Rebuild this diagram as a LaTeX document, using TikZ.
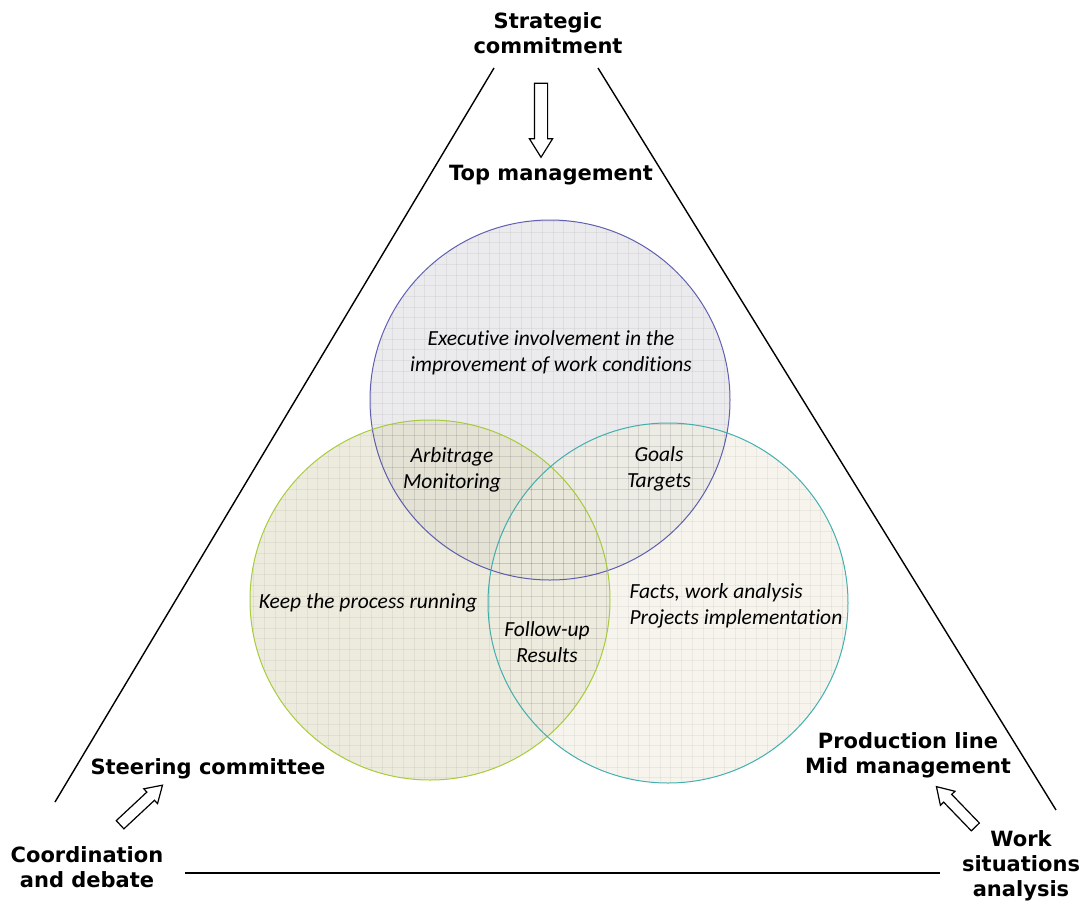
\documentclass[tikz,border=0pt]{standalone}
\usepackage{fontspec}
\setmainfont{DejaVu Sans}
\newfontfamily\carl[Ligatures=NoCommon]{Carlito}
\usepackage{tikz}
\usetikzlibrary{shapes.arrows}

\definecolor{topline}{RGB}{60,60,160}
\definecolor{leftline}{RGB}{160,200,40}
\definecolor{rightline}{RGB}{48,168,168}
\definecolor{topfill}{RGB}{228,228,231}
\definecolor{leftfill}{RGB}{222,218,195}
\definecolor{rightfill}{RGB}{238,235,222}

\begin{document}
\begin{tikzpicture}[x=1pt, y=-1pt,
	lbl/.style={font=\fontsize{21}{25}\selectfont\bfseries, align=center},
	itl/.style={font=\carl\fontsize{21.5}{26}\selectfont\itshape, align=center},
	ring/.style={circle, minimum size=360pt, inner sep=0pt},
	blockarrow/.style={single arrow, draw, line width=1.2pt, fill=white, inner sep=0pt, single arrow tip angle=64}]
	\useasboundingbox (0,0) rectangle (1082,903);
	% triangle
	\draw[line width=1.4pt] (494,68) -- (55,802);
	\draw[line width=1.4pt] (598,68) -- (1056,810);
	\draw[line width=1.4pt] (185,873) -- (940,873);
	% circles
	\node[ring, fill=topfill, fill opacity=.75] (ctop) at (550,400) {};
	\node[ring, fill=leftfill, fill opacity=.55] (cleft) at (430,600) {};
	\node[ring, fill=rightfill, fill opacity=.55] (cright) at (668,603) {};
	\foreach \c in {ctop,cleft,cright} {
		\begin{scope}
		\clip (\c) circle (180);
		\foreach \k in {0,...,66} {
			\draw[black, opacity=.05, line width=.7pt] (200+10.7*\k,200) -- (200+10.7*\k,800);
			\draw[black, opacity=.05, line width=.7pt] (200,200+10.7*\k) -- (900,200+10.7*\k);
		}
		\end{scope}
	}
	\draw[topline, line width=1pt, opacity=.8] (ctop) circle (180);
	\draw[leftline, line width=1pt, opacity=.9] (cleft) circle (180);
	\draw[rightline, line width=1pt, opacity=.9] (cright) circle (180);
	% labels
	\node[lbl] (strat) at (548,33) {Strategic\\commitment};
	\node[lbl] (topman) at (551,175) {Top management};
	\node[lbl] (steer) at (208,769) {Steering committee};
	\node[lbl] (prod) at (908,755) {Production line\\Mid management};
	\node[lbl] (coord) at (87,867) {Coordination\\and debate};
	\node[lbl] (work) at (1021,866) {Work\\situations\\analysis};
	\node[itl] (exec) at (551,353) {Executive involvement in the\\improvement of work conditions};
	\node[itl] (arb) at (452,470) {Arbitrage\\Monitoring};
	\node[itl] (goals) at (659,469) {Goals\\Targets};
	\node[itl] (keep) at (368,603) {Keep the process running};
	\node[itl] (follow) at (547,642) {Follow-up\\Results};
	\node[itl, align=left, anchor=west] (facts) at (626,606) {Facts, work analysis\\Projects implementation};
	% arrows
	\node[blockarrow, rotate=-90, minimum height=74pt, inner ysep=6pt, single arrow head extend=5pt] (a1) at (541,115) {};
	\node[blockarrow, rotate=43, minimum height=58pt, inner ysep=5pt, single arrow head extend=4.5pt] (a2) at (138,808) {};
	\node[blockarrow, rotate=134, minimum height=56pt, inner ysep=5pt, single arrow head extend=4.5pt] (a3) at (959,810) {};
\end{tikzpicture}
\end{document}
